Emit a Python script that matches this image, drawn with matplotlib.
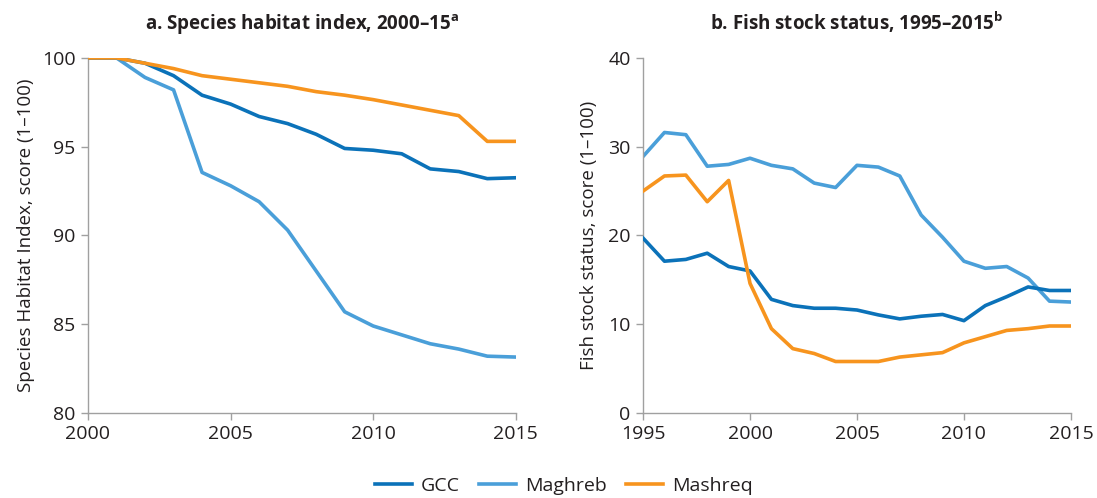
import numpy as np
import matplotlib
matplotlib.use("Agg")
import matplotlib.pyplot as plt

FS = 14

plt.rcParams.update({
    "font.family": ["Open Sans", "DejaVu Sans"],
    "font.size": FS,
    "mathtext.fontset": "custom",
    "mathtext.rm": "Open Sans",
    "mathtext.bf": "Open Sans:bold",
    "text.color": "#231f20",
    "xtick.color": "#a0a0a0",
    "ytick.color": "#a0a0a0",
    "xtick.labelcolor": "#231f20",
    "ytick.labelcolor": "#231f20",
    "axes.edgecolor": "#a0a0a0",
    "axes.labelcolor": "#231f20",
})

COLORS = {
    "GCC": "#0b72b9",
    "Maghreb": "#4a9fd9",
    "Mashreq": "#f7941e",
}

# panel a: species habitat index
habitat_years = list(range(2000, 2016))
habitat_gcc = [100, 100, 99.7, 99.0, 97.9, 97.4, 96.7, 96.3, 95.7, 94.9,
               94.8, 94.6, 93.75, 93.6, 93.2, 93.25]
habitat_maghreb = [100, 100, 98.9, 98.2, 93.55, 92.8, 91.9, 90.3, 88.0, 85.7,
                   84.9, 84.4, 83.9, 83.6, 83.2, 83.15]
habitat_mashreq = [100, 100, 99.7, 99.4, 99.0, 98.8, 98.6, 98.4, 98.1, 97.9,
                   97.65, 97.35, 97.05, 96.75, 95.3, 95.3]

# panel b: fish stock status
fish_years = list(range(1995, 2016))
fish_gcc = [19.7, 17.1, 17.3, 18.0, 16.5, 16.0, 12.8, 12.1, 11.8, 11.8, 11.6,
            11.05, 10.6, 10.9, 11.1, 10.4, 12.1, 13.1, 14.2, 13.8, 13.8]
fish_maghreb = [28.9, 31.6, 31.35, 27.8, 28.0, 28.7, 27.9, 27.5, 25.9, 25.4,
                27.9, 27.7, 26.7, 22.3, 19.8, 17.1, 16.3, 16.5, 15.2, 12.6, 12.5]
fish_mashreq = [25.0, 26.7, 26.8, 23.8, 26.2, 14.6, 9.5, 7.25, 6.7, 5.8, 5.8,
                5.8, 6.3, 6.55, 6.8, 7.9, 8.6, 9.3, 9.5, 9.8, 9.8]


def style_axis(ax):
    ax.spines["top"].set_visible(False)
    ax.spines["right"].set_visible(False)
    ax.spines["left"].set_linewidth(1.0)
    ax.spines["bottom"].set_linewidth(1.0)
    ax.tick_params(direction="out", length=5, width=1.0, pad=4)


fig = plt.figure(figsize=(10.97, 4.98), dpi=100)

ax_a = fig.add_axes([0.0802, 0.1707, 0.390, 0.713])
ax_b = fig.add_axes([0.5862, 0.1707, 0.390, 0.713])

lw = 2.6

ax_a.plot(habitat_years, habitat_gcc, color=COLORS["GCC"], lw=lw, label="GCC", zorder=3)
ax_a.plot(habitat_years, habitat_maghreb, color=COLORS["Maghreb"], lw=lw, label="Maghreb", zorder=2)
ax_a.plot(habitat_years, habitat_mashreq, color=COLORS["Mashreq"], lw=lw, label="Mashreq", zorder=4)

ax_a.set_xlim(2000, 2015)
ax_a.set_ylim(80, 100)
ax_a.set_xticks([2000, 2005, 2010, 2015])
ax_a.set_yticks([80, 85, 90, 95, 100])
ax_a.set_ylabel("Species Habitat Index, score (1\u2013100)", fontsize=13.5, labelpad=5)
ax_a.set_title(r"a. Species habitat index, 2000–15$^{\mathbf{a}}$",
               fontsize=13.5, fontweight="bold", pad=20)
style_axis(ax_a)

ax_b.plot(fish_years, fish_gcc, color=COLORS["GCC"], lw=lw, zorder=3)
ax_b.plot(fish_years, fish_maghreb, color=COLORS["Maghreb"], lw=lw, zorder=2)
ax_b.plot(fish_years, fish_mashreq, color=COLORS["Mashreq"], lw=lw, zorder=4)

ax_b.set_xlim(1995, 2015)
ax_b.set_ylim(0, 40)
ax_b.set_xticks([1995, 2000, 2005, 2010, 2015])
ax_b.set_yticks([0, 10, 20, 30, 40])
ax_b.set_ylabel("Fish stock status, score (1\u2013100)", fontsize=13.5, labelpad=7)
ax_b.set_title(r"b. Fish stock status, 1995–2015$^{\mathbf{b}}$",
               fontsize=13.5, fontweight="bold", pad=20)
style_axis(ax_b)

handles, labels = ax_a.get_legend_handles_labels()
fig.legend(handles, labels, loc="center", bbox_to_anchor=(0.514, 0.024),
           ncol=3, frameon=False, handlelength=1.9, columnspacing=1.0,
           handletextpad=0.45, fontsize=FS)

fig.savefig("out.png", dpi=100)
